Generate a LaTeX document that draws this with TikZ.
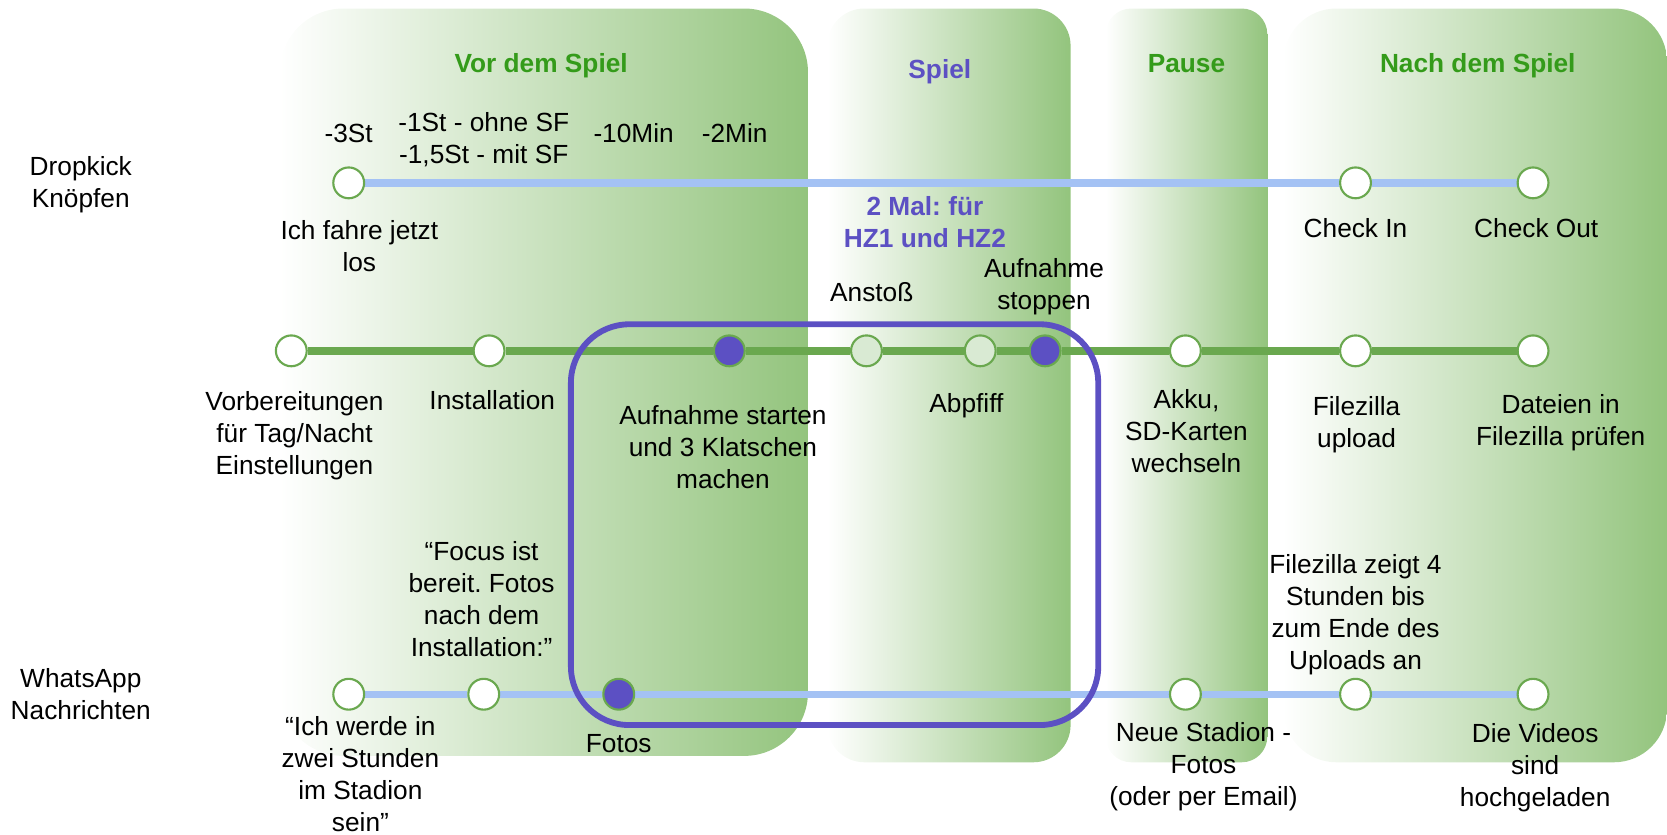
\documentclass[tikz,border=0pt]{standalone}
\usepackage{fontspec}
\setmainfont{Liberation Sans}
\frenchspacing
\definecolor{pgreen}{HTML}{93C47D}
\definecolor{lgreen}{HTML}{6AA84F}
\definecolor{lblue}{HTML}{A4C2F4}
\definecolor{purp}{RGB}{92,80,195}
\definecolor{tgreen}{RGB}{52,155,26}
\definecolor{pale}{HTML}{D9EAD3}
\newcommand\lblfont{\fontsize{24.7}{30}\selectfont}
\pgfdeclarelayer{panels}
\pgfdeclarelayer{lines}
\pgfsetlayers{panels,lines,main}
\begin{document}
\begin{tikzpicture}[x=1pt,y=-1pt,
  lbl/.style={font=\lblfont, align=center, inner sep=0pt,
    execute at begin node=\strut, execute at end node=\strut},
  ttl/.style={lbl, font=\lblfont\bfseries, text=tgreen},
  ttlp/.style={ttl, text=purp},
  stn/.style={circle, draw=lgreen, line width=2pt, fill=white, minimum size=29pt, inner sep=0pt},
  stnp/.style={stn, fill=purp},
  stnl/.style={stn, fill=pale},
  blueline/.style={draw=lblue, line width=7pt},
  greenline/.style={draw=lgreen, line width=7pt},
  panel/.style={left color=white, right color=pgreen},
  hzbox/.style={draw=purp, line width=5.5pt, rounded corners=55pt}]
\useasboundingbox (0,0) rectangle (1568,785);

% panels
\begin{pgfonlayer}{panels}
\shade[panel, rounded corners=60pt] (263,8) rectangle (760,711);
\shade[panel, rounded corners=35pt] (778,8) rectangle (1007,717);
\shade[panel, rounded corners=24pt] (1040,8) rectangle (1192,717);
\shade[panel, rounded corners=50pt] (1207,8) rectangle (1568,717);
\end{pgfonlayer}

% titles
\node[ttl] (t1) at (509,62) {Vor dem Spiel};
\node[ttlp] (t2) at (884,68) {Spiel};
\node[ttl] (t3) at (1116,62) {Pause};
\node[ttl] (t4) at (1390,62) {Nach dem Spiel};
\node[ttlp] (hz) at (870,213) {2 Mal: für\\HZ1 und HZ2};

% row labels
\node[lbl] (r1) at (76,176) {Dropkick\\Knöpfen};
\node[lbl] (r3) at (76,657.5) {WhatsApp\\Nachrichten};

% purple frame
\draw[hzbox] (537,305) rectangle (1033,682);

% stations row 1
\node[stn] (d1) at (328,172) {};
\node[stn] (d2) at (1275,172) {};
\node[stn] (d3) at (1442,172) {};
% stations row 2
\node[stn] (g1) at (274,330) {};
\node[stn] (g2) at (460,330) {};
\node[stnp] (g3) at (686,330) {};
\node[stnl] (g4) at (815,330) {};
\node[stnl] (g5) at (922,330) {};
\node[stnp] (g6) at (983,330) {};
\node[stn] (g7) at (1115,330) {};
\node[stn] (g8) at (1275,330) {};
\node[stn] (g9) at (1442,330) {};
% stations row 3
\node[stn] (w1) at (328,653) {};
\node[stn] (w2) at (455,653) {};
\node[stnp] (w3) at (582,653) {};
\node[stn] (w4) at (1115,653) {};
\node[stn] (w5) at (1275,653) {};
\node[stn] (w6) at (1442,653) {};

\begin{pgfonlayer}{lines}
\draw[blueline] (d1) -- (d2) -- (d3);
\draw[greenline] (g1) -- (g2) -- (g3) -- (g4) -- (g5) -- (g6) -- (g7) -- (g8) -- (g9);
\draw[blueline] (w1) -- (w2) -- (w3) -- (w4) -- (w5) -- (w6);
\end{pgfonlayer}

% labels row 1
\node[lbl] (a1) at (328,128) {-3St};
\node[lbl] (a2) at (455,134) {-1St - ohne SF\\-1,5St - mit SF};
\node[lbl] (a3) at (596,128) {-10Min};
\node[lbl] (a4) at (691,128) {-2Min};
\node[lbl] (a5) at (338,236) {Ich fahre jetzt\\los};
\node[lbl] (a6) at (1275,217) {Check In};
\node[lbl] (a7) at (1445,217) {Check Out};

% labels row 2
\node[lbl] (b1) at (820,278) {Anstoß};
\node[lbl] (b2) at (982,272) {Aufnahme\\stoppen};
\node[lbl] (b3) at (277,412) {Vorbereitungen\\für Tag/Nacht\\Einstellungen};
\node[lbl] (b4) at (463,379) {Installation};
\node[lbl] (b5) at (680,425) {Aufnahme starten\\und 3 Klatschen\\machen};
\node[lbl] (b6) at (909,382) {Abpfiff};
\node[lbl] (b7) at (1116,410) {Akku,\\SD-Karten\\wechseln};
\node[lbl] (b8) at (1276,401.5) {Filezilla\\upload};
\node[lbl] (b9) at (1468,399.5) {Dateien in\\Filezilla prüfen};

% labels row 3
\node[lbl] (c1) at (453,568) {“Focus ist\\bereit. Fotos\\nach dem\\Installation:”};
\node[lbl] (c2) at (339,732.5) {“Ich werde in\\zwei Stunden\\im Stadion\\sein”};
\node[lbl] (c3) at (582,702) {Fotos};
\node[lbl] (c4) at (1132,723) {Neue Stadion -\\Fotos\\(oder per Email)};
\node[lbl] (c5) at (1275,580) {Filezilla zeigt 4\\Stunden bis\\zum Ende des\\Uploads an};
\node[lbl] (c6) at (1444,724) {Die Videos\\sind\\hochgeladen};
\end{tikzpicture}
\end{document}
